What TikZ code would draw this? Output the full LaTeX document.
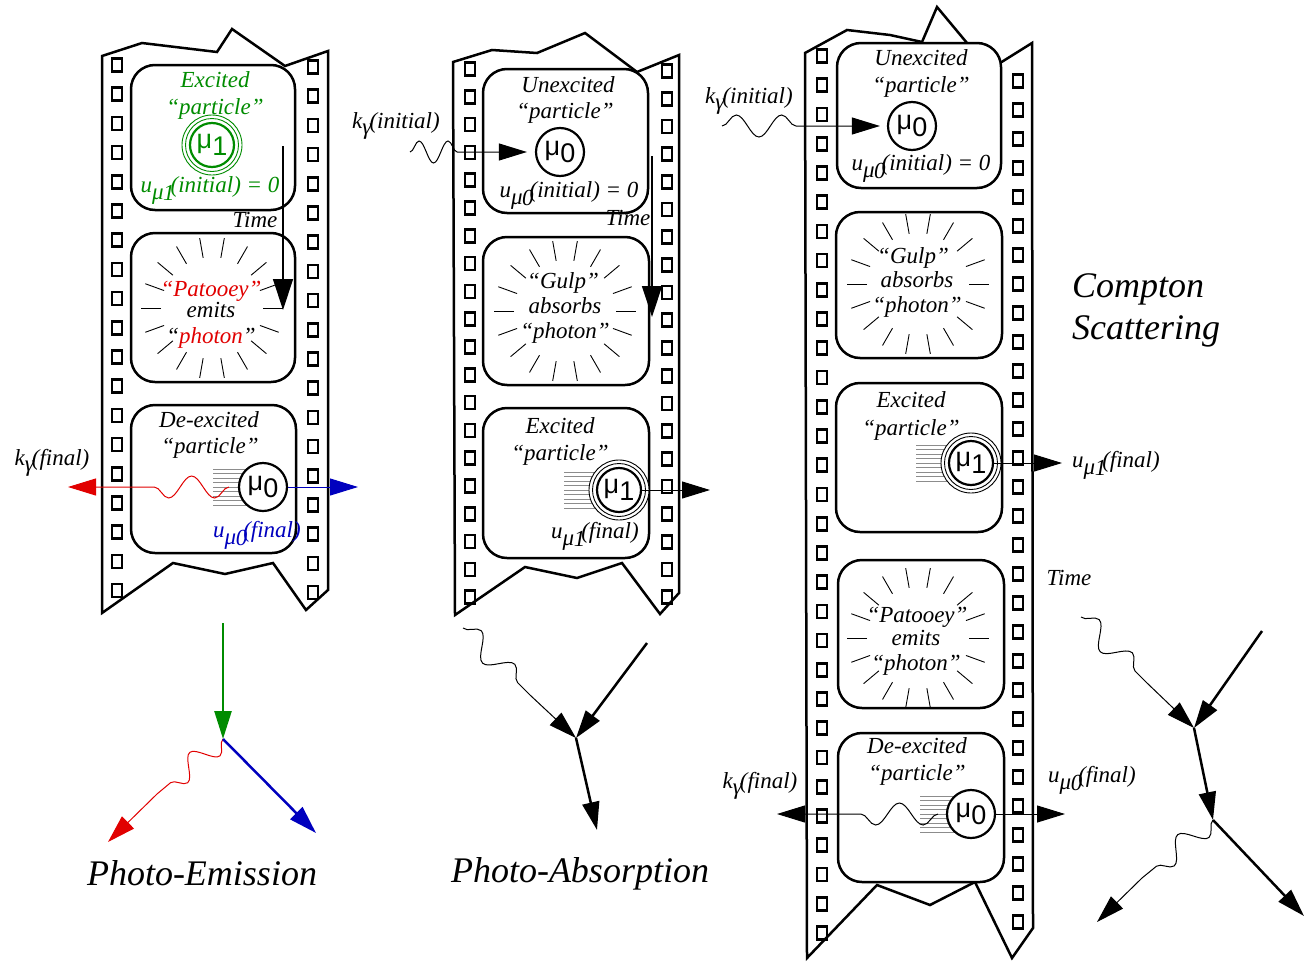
\documentclass[tikz,border=0pt]{standalone}
\usepackage{fontspec}
\setmainfont{Liberation Serif}
\newfontfamily\symfont{Liberation Sans}
\usetikzlibrary{arrows.meta,decorations.pathmorphing,calc}

\definecolor{excgreen}{RGB}{0,140,0}
\definecolor{emitred}{RGB}{225,0,0}
\definecolor{outblue}{RGB}{0,0,190}

\newcommand{\kgam}[1]{k\raisebox{-6pt}{γ}\kern-2pt(#1)}
\newcommand{\umu}[2]{u\raisebox{-7pt}{μ\kern-0.5pt\raisebox{-1pt}{#1}}\kern-4pt(#2)}
\newcommand{\mulab}[1]{μ\raisebox{-7pt}{#1}}
\newcommand{\sprockets}[4]{\foreach \i in {0,...,#4}{\draw[hole] ({#1-5},{#2+#3*\i-6.5}) rectangle ({#1+5},{#2+#3*\i+6.5});}}
\newcommand{\burst}[2]{\foreach \a in {0,20,...,340}{\draw[tick] ($(#1,#2)+(\a:51)$) -- ($(#1,#2)+(\a:71)$);}}
\newcommand{\speed}[3]{\foreach \d in {-18,-13.5,...,18}{\draw[speed] (#1,#3+\d) -- (#2,#3+\d);}}

\tikzset{
  film/.style={line width=2.5pt, line join=miter},
  hole/.style={line width=2.7pt},
  frame/.style={draw, line width=2.5pt, fill=white, rounded corners=24pt},
  tick/.style={line width=0.9pt},
  speed/.style={black!45, line width=0.8pt},
  lbl/.style={font=\fontsize{23}{27}\selectfont\itshape, inner sep=0pt, anchor=base},
  title/.style={font=\fontsize{36}{40}\selectfont\itshape, inner sep=0pt, anchor=base},
  particle/.style={draw, circle, line width=2.2pt, fill=white, minimum size=48pt, inner sep=0pt, font=\fontsize{27}{27}\selectfont\symfont},
  ring/.style={line width=0.9pt},
  bigtip/.style={-{Triangle[length=28pt,width=17pt]}},
  fermion/.style={line width=2.5pt},
  boson/.style={line width=1pt},
  photon/.style={decoration={snake, amplitude=11pt, segment length=#1}}
}

\begin{document}
\begin{tikzpicture}[x=1pt,y=-1pt]
\useasboundingbox (0,0) rectangle (1308,964);

% left film: emission
\draw[film] (102,613) -- (102,56) -- (142,43) -- (217,52) -- (232,29) -- (285,66) -- (328,51)
  -- (328,590) -- (306,610) -- (273,563) -- (225,574) -- (173,563) -- cycle;
\sprockets{117}{65}{29.2}{18}
\sprockets{313}{67}{29.2}{18}
\draw[frame] (131,65) rectangle (295,210);
\draw[frame] (131,233) rectangle (295,382);
\draw[frame] (131,405) rectangle (296,553);

\node[lbl, excgreen] (exc1) at (215,87) {Excited};
\node[lbl, excgreen] (par1) at (215,114) {“particle”};
\coordinate (m1a) at (212,145);
\draw[ring, draw=excgreen, fill=white] (m1a) circle (30pt);
\draw[ring, draw=excgreen] (m1a) circle (26.5pt);
\node[particle, draw=excgreen, text=excgreen, minimum size=44pt] (p1a) at (m1a) {\mulab{1}};
\node[lbl, excgreen] (ui1) at (210,192) {\umu{1}{initial} = 0};

\burst{212}{308}
\node[lbl, emitred] (pat1) at (211,296) {“Patooey”};
\node[lbl] (emi1) at (211,317) {emits};
\node[lbl] (pho1) at (211,343) {“{\color{emitred}photon}”};

\node[lbl] (dex1) at (209,427) {De-excited};
\node[lbl] (par1b) at (210,453) {“particle”};
\speed{213}{263}{487}
\node[particle] (p0a) at (263,487) {\mulab{0}};
\coordinate (kf1) at (68,487);
\coordinate (uf1) at (358,487);
\draw[boson, emitred, bigtip] (229,487) decorate[photon=46]{-- (137,487)} -- (kf1);
\draw[boson, outblue, bigtip] (p0a.east) -- (uf1);
\node[lbl] (kfl1) at (52,465) {\kgam{final}};
\node[lbl, outblue] (ufl1) at (257,537) {\umu{0}{final}};

\coordinate (ts1) at (283,146);
\coordinate (te1) at (283,310);
\draw[line width=1.3pt, -{Triangle[length=31pt,width=20pt]}] (ts1) -- (te1);
\node[lbl] (time1) at (255,227) {Time};

% middle film: absorption
\draw[film] (455,615) -- (453,62) -- (492,50) -- (537,53) -- (585,33) -- (637,72) -- (679,55)
  -- (679,593) -- (660,614) -- (622,563) -- (577,578) -- (525,567) -- cycle;
\sprockets{470}{69}{27.8}{19}
\sprockets{667}{71}{27.7}{19}
\draw[frame] (483,69) rectangle (648,213);
\draw[frame] (483,237) rectangle (649,385);
\draw[frame] (483,408) rectangle (649,558);

\node[lbl] (une2) at (568,92) {Unexcited};
\node[lbl] (par2) at (565,118) {“particle”};
\node[particle] (p0b) at (560,152) {\mulab{0}};
\node[lbl] (ui2) at (569,197) {\umu{0}{initial} = 0};
\coordinate (ki2) at (410,152);
\draw[boson, bigtip, shorten >=8pt] (ki2) decorate[photon=29]{-- (468,152)} -- (p0b.west);
\node[lbl] (kil2) at (396,128) {\kgam{initial}};

\coordinate (ts2) at (652,156);
\coordinate (te2) at (652,317);
\draw[line width=1.3pt, -{Triangle[length=31pt,width=20pt]}] (ts2) -- (te2);
\node[lbl] (time2) at (628,225) {Time};

\burst{565}{311}
\node[lbl] (gul2) at (563,288) {“Gulp”};
\node[lbl] (abs2) at (565,313) {absorbs};
\node[lbl] (pho2) at (565,338) {“photon”};

\node[lbl] (exc2) at (560,433) {Excited};
\node[lbl] (par2b) at (560,460) {“particle”};
\speed{564}{619}{490}
\coordinate (m1b) at (619,490);
\draw[ring, fill=white] (m1b) circle (30pt);
\draw[ring] (m1b) circle (26.5pt);
\node[particle, minimum size=44pt] (p1b) at (m1b) {\mulab{1}};
\coordinate (uf2) at (710,490);
\draw[boson, bigtip] (p1b.east) -- (uf2);
\node[lbl] (ufl2) at (595,538) {\umu{1}{final}};

% right film: Compton scattering
\draw[film] (807,958) -- (805,53) -- (847,30) -- (890,35) -- (922,42) -- (937,7) -- (967,43) -- (1000,63)
  -- (1032,43) -- (1033,928) -- (1012,958) -- (975,882) -- (930,905) -- (877,885) -- cycle;
\sprockets{822}{56}{29.23}{30}
\sprockets{1018}{81}{29}{29}
\draw[frame] (837,43) rectangle (1001,188);
\draw[frame] (836,212) rectangle (1002,358);
\draw[frame] (836,383) rectangle (1002,532);
\draw[frame] (838,560) rectangle (1004,708);
\draw[frame] (838,733) rectangle (1004,882);

\node[lbl] (une3) at (921,65) {Unexcited};
\node[lbl] (par3) at (921,92) {“particle”};
\node[particle] (p0c) at (912,126) {\mulab{0}};
\node[lbl] (ui3) at (921,170) {\umu{0}{initial} = 0};
\coordinate (ki3) at (722,126);
\draw[boson, bigtip, shorten >=7pt] (ki3) decorate[photon=45.5]{-- (813,126)} -- (p0c.west);
\node[lbl] (kil3) at (749,103) {\kgam{initial}};

\burst{918}{284}
\node[lbl] (gul3) at (913,263) {“Gulp”};
\node[lbl] (abs3) at (917,287) {absorbs};
\node[lbl] (pho3) at (917,312) {“photon”};

\node[lbl] (exc3) at (911,407) {Excited};
\node[lbl] (par3b) at (911,435) {“particle”};
\speed{916}{971}{463}
\coordinate (m1c) at (971,463);
\draw[ring, fill=white] (m1c) circle (30pt);
\draw[ring] (m1c) circle (26.5pt);
\node[particle, minimum size=44pt] (p1c) at (m1c) {\mulab{1}};
\coordinate (uf3) at (1062,463);
\draw[boson, bigtip] (p1c.east) -- (uf3);
\node[lbl] (ufl3) at (1116,467) {\umu{1}{final}};

\burst{918}{638}
\node[lbl] (pat3) at (917,622) {“Patooey”};
\node[lbl] (emi3) at (916,645) {emits};
\node[lbl] (pho3b) at (916,670) {“photon”};
\node[lbl] (time3) at (1069,585) {Time};

\node[lbl] (dex3) at (917,753) {De-excited};
\node[lbl] (par3c) at (917,780) {“particle”};
\speed{920}{971}{814}
\node[particle] (p0d) at (971,814) {\mulab{0}};
\coordinate (kf3) at (777,814);
\coordinate (uf3b) at (1065,814);
\draw[boson, bigtip] (938,814) decorate[photon=47.5]{-- (843,814)} -- (kf3);
\draw[boson, bigtip] (p0d.east) -- (uf3b);
\node[lbl] (kfl3) at (760,788) {\kgam{final}};
\node[lbl] (ufl3b) at (1092,782) {\umu{0}{final}};

\node[title, anchor=base west] (cs1) at (1072,297) {Compton};
\node[title, anchor=base west] (cs2) at (1072,339) {Scattering};

% Feynman graphs
\coordinate (in1) at (223,623);
\coordinate (v1) at (223,739);
\coordinate (e1) at (108,842);
\coordinate (o1) at (316,833);
\draw[fermion, excgreen, bigtip] (in1) -- (v1);
\draw[boson, emitred, bigtip] (v1) decorate[photon=42]{-- (157,794)} -- (e1);
\draw[fermion, outblue, bigtip] (v1) -- (o1);
\node[title] (pe) at (202,885) {Photo-Emission};

\coordinate (g2) at (463,628);
\coordinate (v2) at (576,738);
\coordinate (in2) at (647,643);
\coordinate (o2) at (597,830);
\draw[boson, bigtip] (g2) decorate[photon=47.5]{-- (530,695)} -- (v2);
\draw[fermion, bigtip] (in2) -- (v2);
\draw[fermion, bigtip] (v2) -- (o2);
\node[title] (pa) at (580,882) {Photo-Absorption};

\coordinate (g3) at (1081,617);
\coordinate (v3a) at (1194,728);
\coordinate (in3) at (1262,631);
\coordinate (v3b) at (1213,820);
\coordinate (o3) at (1304,916);
\coordinate (e3) at (1097,922);
\draw[boson, bigtip] (g3) decorate[photon=47]{-- (1147,683)} -- (v3a);
\draw[fermion, bigtip] (in3) -- (v3a);
\draw[fermion, bigtip] (v3a) -- (v3b);
\draw[fermion, bigtip] (v3b) -- (o3);
\draw[boson, bigtip] (v3b) decorate[photon=45]{-- (1142,878)} -- (e3);
\end{tikzpicture}
\end{document}
